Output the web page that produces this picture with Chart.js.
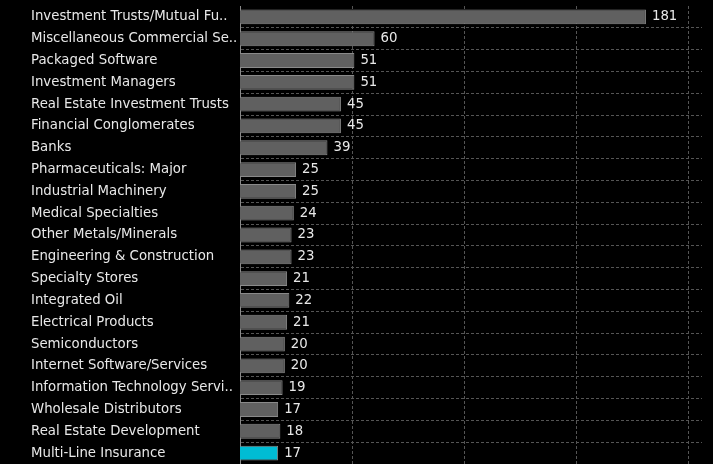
<!DOCTYPE html>
<html lang="en">
<head>
  <meta charset="UTF-8">
  <title>Industry Counts</title>
  <script src="https://cdn.jsdelivr.net/npm/chart.js"></script>
  <style>
    html, body { margin: 0; padding: 0; background: #000; }
    #industryChart { display: block; }
  </style>
</head>
<body>
  <canvas id="industryChart" width="713" height="464"></canvas>

  <script>
    const industries = [
      "Investment Trusts/Mutual Fu..",
      "Miscellaneous Commercial Se..",
      "Packaged Software",
      "Investment Managers",
      "Real Estate Investment Trusts",
      "Financial Conglomerates",
      "Banks",
      "Pharmaceuticals: Major",
      "Industrial Machinery",
      "Medical Specialties",
      "Other Metals/Minerals",
      "Engineering & Construction",
      "Specialty Stores",
      "Integrated Oil",
      "Electrical Products",
      "Semiconductors",
      "Internet Software/Services",
      "Information Technology Servi..",
      "Wholesale Distributors",
      "Real Estate Development",
      "Multi-Line Insurance"
    ];
    const counts = [181, 60, 51, 51, 45, 45, 39, 25, 25, 24, 23, 23, 21, 22, 21, 20, 20, 19, 17, 18, 17];
    const highlighted = "Multi-Line Insurance";
    const xTicks = [50, 100, 150, 200];

    const textFont = { family: "DejaVu Sans", size: 13.3 };
    const gridColor = "#555555";

    // draws the count just right of each bar
    const valueLabels = {
      id: "valueLabels",
      afterDatasetsDraw(chart) {
        const ctx = chart.ctx;
        const meta = chart.getDatasetMeta(0);
        ctx.save();
        ctx.fillStyle = "#e8e8e8";
        ctx.font = textFont.size + "px '" + textFont.family + "'";
        ctx.textAlign = "left";
        ctx.textBaseline = "middle";
        meta.data.forEach((bar, i) => {
          ctx.fillText(String(counts[i]), bar.x + 6, bar.y);
        });
        ctx.restore();
      }
    };

    const ctx = document.getElementById("industryChart").getContext("2d");
    new Chart(ctx, {
      type: "bar",
      data: {
        labels: industries,
        datasets: [{
          data: counts,
          backgroundColor: industries.map(n => n === highlighted ? "#00bcd4" : "#606060"),
          borderColor: "#8a8a8a",
          borderWidth: 1,
          barPercentage: 0.68,
          categoryPercentage: 1
        }]
      },
      options: {
        indexAxis: "y",
        responsive: false,
        animation: false,
        layout: { padding: { left: 31, top: 6, right: 11, bottom: 0 } },
        plugins: {
          legend: { display: false },
          tooltip: { enabled: false }
        },
        scales: {
          x: {
            min: 0,
            max: 206,
            afterBuildTicks: axis => {
              axis.ticks = xTicks.map(v => ({ value: v }));
            },
            ticks: { display: false },
            grid: {
              color: c => (c.tick && xTicks.includes(c.tick.value)) ? gridColor : "transparent",
              lineWidth: 1,
              drawTicks: false,
              tickLength: 0
            },
            border: { display: false, dash: [3, 2] },
            afterFit: axis => {
              axis.height = 0;
              axis.paddingLeft = 0;
              axis.paddingRight = 0;
            }
          },
          y: {
            ticks: {
              color: "#e8e8e8",
              font: textFont,
              crossAlign: "far",
              padding: 4
            },
            grid: {
              color: c => (c.type !== "tick" || c.index === 0) ? "transparent" : gridColor,
              lineWidth: 1,
              drawTicks: false,
              tickLength: 0
            },
            border: { display: true, color: "#8a8a8a", dash: [3, 2] },
            afterFit: axis => {
              axis.width = 209;
              axis.paddingTop = 0;
              axis.paddingBottom = 0;
            }
          }
        }
      },
      plugins: [valueLabels]
    });
  </script>
</body>
</html>
